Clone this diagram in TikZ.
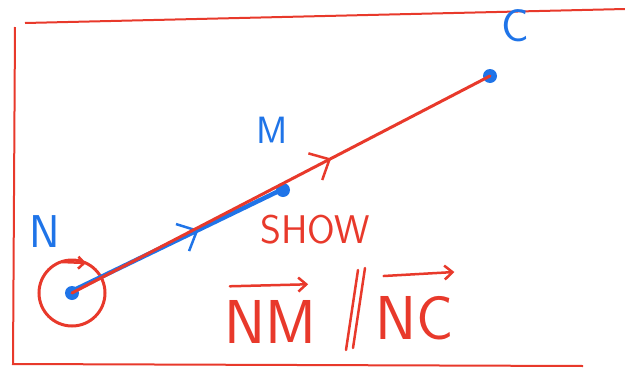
\documentclass[tikz,border=0pt]{standalone}
\usepackage{amsmath}
\usepackage{amssymb}
\usetikzlibrary{
  arrows.meta,
  positioning,
  calc,
  decorations.markings
}
\definecolor{skRed}{HTML}{E8392B}
\definecolor{skBlue}{HTML}{1F74E8}
\tikzset{
  pt/.style={circle, fill=skBlue, inner sep=0pt, minimum size=14pt},
  ptlabel/.style={text=skBlue, font=\fontsize{46}{48}\selectfont\sffamily},
  redlabel/.style={text=skRed, font=\fontsize{40}{42}\selectfont\sffamily},
  veclabel/.style={text=skRed, font=\fontsize{62}{64}\selectfont\sffamily, inner sep=0pt},
  frame/.style={draw=skRed, line width=2pt},
  redline/.style={draw=skRed, line width=3pt, line cap=round},
  blueline/.style={draw=skBlue, line width=4.5pt, line cap=round},
  vecarrow/.style={redline, line width=2.5pt, -{Straight Barb[length=8pt, width=14pt, line width=2.5pt]}},
  midarrow/.style={postaction={decorate}, decoration={markings,
      mark=at position #1 with {\arrow{Straight Barb[length=16pt, width=30pt, line width=2.5pt]}}}}
}
\begin{document}
\begin{tikzpicture}[x=1pt, y=-1pt]
  \useasboundingbox (0,0) rectangle (625,370);
  % frame
  \draw[frame] (25,23) -- (625,9);
  \draw[frame] (15,27) -- (13,364) -- (583,366);
  % points
  \node[pt] (N) at (72,293) {};
  \node[pt] (M) at (283,190) {};
  \node[pt] (C) at (490,76) {};
  \node[ptlabel] (Nlab) at (45,232) {N};
  \node[ptlabel, font=\fontsize{38}{40}\selectfont\sffamily] (Mlab) at (272,130) {M};
  \node[ptlabel] (Clab) at (515,26) {C};
  % circle round N
  \draw[skRed, line width=3pt] (N) circle (33);
  \draw[skRed, line width=2.5pt, -{Straight Barb[length=6pt, width=12pt, line width=2.5pt]}] ($(N)+(-10,-31)$) -- ($(N)+(14,-30)$);
  % vectors
  \draw[blueline, midarrow=0.6] ($(N.center)+(0,-2)$) -- ($(M.center)+(0,-1)$);
  \draw[redline, midarrow=0.62] (N.center) -- (C.center);
  % text
  \node[redlabel] (show) at (315,230) {SHOW};
  \node[veclabel] (NM) at (270,322) {NM};
  \node[veclabel] (NC) at (415,318) {NC};
  \draw[vecarrow] ($(NM.north west)+(6,-14)$) -- ($(NM.north east)+(-8,-16)$);
  \draw[vecarrow] ($(NC.north west)+(8,-20)$) -- ($(NC.north east)+(0,-24)$);
  % parallel sign
  \coordinate (par) at (354,310);
  \draw[redline, line width=2.5pt] ($(par)+(4,-40)$) -- ($(par)+(-8,40)$);
  \draw[redline, line width=2.5pt] ($(par)+(11,-42)$) -- ($(par)+(-1,38)$);
\end{tikzpicture}
\end{document}
